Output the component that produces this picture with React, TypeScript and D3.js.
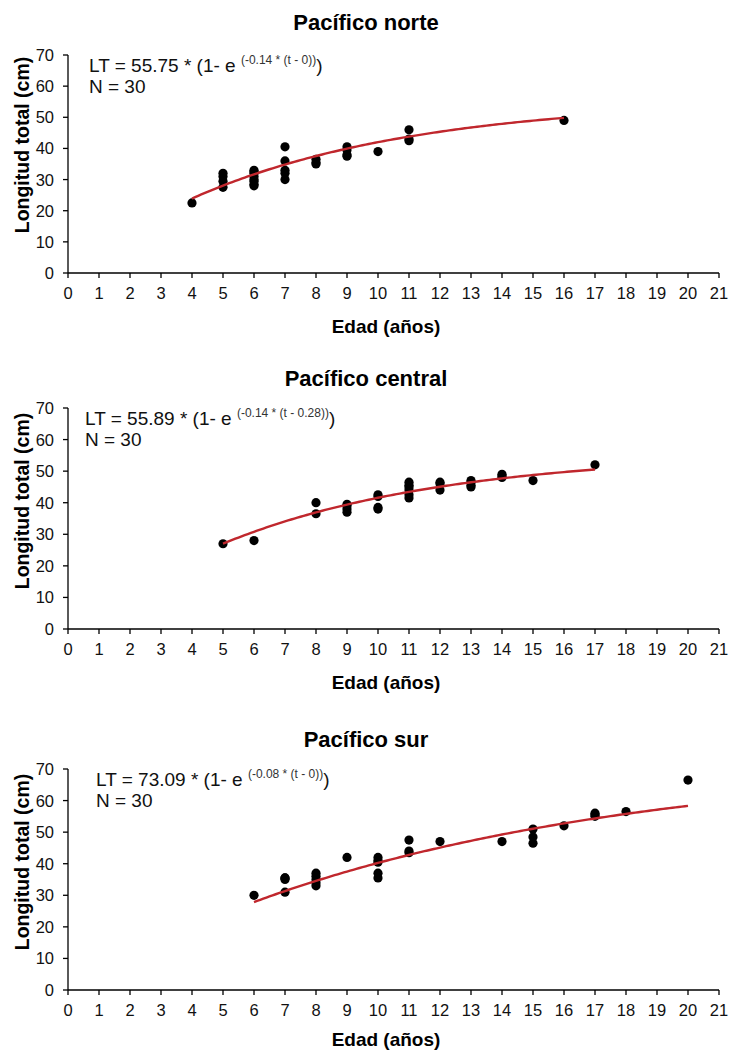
import React from "react";
import * as d3 from "d3";

// ---- axis tick labels ----
const xTickValues = [0, 1, 2, 3, 4, 5, 6, 7, 8, 9, 10, 11, 12, 13, 14, 15, 16, 17, 18, 19, 20, 21];
const yTickValues = [0, 10, 20, 30, 40, 50, 60, 70];

// ---- Pacífico norte ----
const norteAges = [4, 5, 5, 5, 5, 6, 6, 6, 6, 6, 6, 6, 6, 7, 7, 7, 7, 7, 8, 8, 8, 9, 9, 9, 9, 10, 11, 11, 11, 16];
const norteLengths = [22.5, 32, 31, 29.5, 27.5, 33, 32.5, 32, 31, 30, 29.5, 28.5, 28, 40.5, 36, 33, 32, 30, 36.5, 35.5, 35, 40.5, 39.5, 38, 37.5, 39, 46, 43, 42.5, 49];

// ---- Pacífico central ----
const centralAges = [5, 6, 8, 8, 9, 9, 9, 9, 10, 10, 10, 10, 11, 11, 11, 11, 11, 11, 12, 12, 12, 13, 13, 13, 13, 14, 14, 14, 15, 17];
const centralLengths = [27, 28, 40, 36.5, 39.5, 39, 38, 37, 42.5, 42, 38.5, 38, 46.5, 45.5, 45, 44, 42.5, 41.5, 46.5, 46, 44, 47, 46.5, 45.5, 45, 49, 48.5, 48, 47, 52];

// ---- Pacífico sur ----
const surAges = [6, 7, 7, 7, 7, 8, 8, 8, 8, 8, 9, 10, 10, 10, 10, 10, 11, 11, 11, 12, 14, 15, 15, 15, 16, 17, 17, 17, 18, 20];
const surLengths = [30, 35.5, 35.5, 35, 31, 37, 36, 35, 34, 33, 42, 42, 41, 40.5, 37, 35.5, 47.5, 44, 43.5, 47, 47, 51, 48.5, 46.5, 52, 56, 55.5, 55, 56.5, 66.5];

// ---- von Bertalanffy parameters (from the printed equations) ----
const panelTitles = ["Pacífico norte", "Pacífico central", "Pacífico sur"];
const linfValues = [55.75, 55.89, 73.09];
const kValues = [0.14, 0.14, 0.08];
const t0Values = [0, 0.28, 0];
const eqMain = ["LT = 55.75 * (1- e ", "LT = 55.89 * (1- e ", "LT = 73.09 * (1- e "];
const eqSup = ["(-0.14 * (t - 0))", "(-0.14 * (t - 0.28))", "(-0.08 * (t - 0))"];
const curveStart = [4, 5, 6];
const curveEnd = [16, 17, 20];
const nLabels = ["N = 30", "N = 30", "N = 30"];

const agesList = [norteAges, centralAges, surAges];
const lengthsList = [norteLengths, centralLengths, surLengths];

// layout
const W = 729;
const H = 1051;
const xLeft = 68;
const xRight = 719;
const axisY = [273, 629, 990];
const plotH = [218, 221, 221];
const eqX = [89, 85, 96];
const xTitleOffset = [53, 53, 49];
const FONT = "'Liberation Sans', Arial, Helvetica, sans-serif";

function Panel({ i }: { i: number }) {
  const y0 = axisY[i];
  const x = d3.scaleLinear().domain([0, 21]).range([xLeft, xRight]);
  const y = d3.scaleLinear().domain([0, 70]).range([y0, y0 - plotH[i]]);
  const linf = linfValues[i], k = kValues[i], t0 = t0Values[i];
  const ts = d3.range(curveStart[i], curveEnd[i] + 0.001, 0.1);
  const line = d3
    .line<number>()
    .x((t) => x(t))
    .y((t) => y(linf * (1 - Math.exp(-k * (t - t0)))));
  const ages = agesList[i];
  const lens = lengthsList[i];
  const top = y(70);
  return (
    <g>
      <text x={366} y={y0 - 251} fontFamily={FONT} fontWeight="bold" fontSize={22} textAnchor="middle" dominantBaseline="central" fill="#000">
        {panelTitles[i]}
      </text>
      {/* y axis */}
      <line x1={xLeft} x2={xLeft} y1={y(0)} y2={top} stroke="#000" strokeWidth={1.3} />
      {yTickValues.map((v) => (
        <g key={"y" + v}>
          <line x1={xLeft - 5} x2={xLeft} y1={y(v)} y2={y(v)} stroke="#000" strokeWidth={1.3} />
          <text x={xLeft - 14} y={y(v)} fontFamily={FONT} fontSize={16.5} textAnchor="end" dominantBaseline="central" fill="#111">
            {v}
          </text>
        </g>
      ))}
      {/* x axis */}
      <line x1={x(0)} x2={x(21)} y1={y0} y2={y0} stroke="#000" strokeWidth={1.3} />
      {xTickValues.map((v) => (
        <g key={"x" + v}>
          <line x1={x(v)} x2={x(v)} y1={y0} y2={y0 + 5} stroke="#000" strokeWidth={1.3} />
          <text x={x(v)} y={y0 + 20} fontFamily={FONT} fontSize={16.5} textAnchor="middle" dominantBaseline="central" fill="#111">
            {v}
          </text>
        </g>
      ))}
      <text x={386} y={y0 + xTitleOffset[i]} fontFamily={FONT} fontWeight="bold" fontSize={19} textAnchor="middle" dominantBaseline="central" fill="#000">
        Edad (años)
      </text>
      <text
        transform={`translate(22,${y0 - 128}) rotate(-90)`}
        fontFamily={FONT}
        fontWeight="bold"
        fontSize={19.5}
        textAnchor="middle"
        dominantBaseline="central"
        fill="#000"
      >
        Longitud total (cm)
      </text>
      {/* equation */}
      <text x={eqX[i]} y={top + 17} fontFamily={FONT} fontSize={19} fill="#111">
        {eqMain[i]}
        <tspan fontSize={12} dy={-8} fill="#333">{eqSup[i]}</tspan>
        <tspan fontSize={19} dy={8}>)</tspan>
      </text>
      <text x={eqX[i]} y={top + 38} fontFamily={FONT} fontSize={19} fill="#111">
        {nLabels[i]}
      </text>
      {/* points */}
      {ages.map((a, j) => (
        <circle key={"p" + j} cx={x(a)} cy={y(lens[j])} r={4.6} fill="#000" />
      ))}
      {/* fitted curve */}
      <path d={line(ts) || ""} fill="none" stroke="#c0272d" strokeWidth={2.4} />
    </g>
  );
}

export default function App() {
  return (
    <svg width={W} height={H} style={{ position: "absolute", left: 0, top: 0, background: "#fff" }}>
      <rect x={0} y={0} width={W} height={H} fill="#fff" />
      {[0, 1, 2].map((i) => (
        <Panel key={i} i={i} />
      ))}
    </svg>
  );
}
